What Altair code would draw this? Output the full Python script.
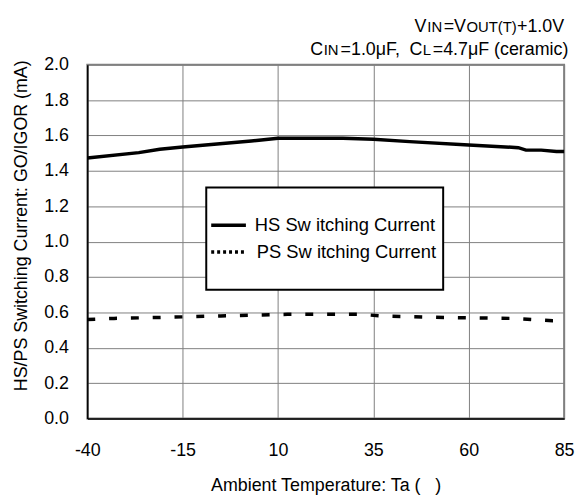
import altair as alt
import pandas as pd

FONT = "Liberation Sans, Arial, sans-serif"

# ---- data ----
hs_temp = [-40, -26.5, -21, -15, 3, 5, 10, 27, 35, 44.5, 60, 73, 75, 79, 83, 85]
hs_curr = [1.472, 1.503, 1.522, 1.535, 1.569, 1.573, 1.584, 1.584, 1.578, 1.565,
           1.546, 1.531, 1.517, 1.517, 1.509, 1.509]
ps_temp = [-40, -33, -22, -5, 12.5, 31.5, 37, 54, 71, 82, 85]
ps_curr = [0.560, 0.566, 0.571, 0.580, 0.589, 0.589, 0.580, 0.571, 0.566, 0.553, 0.553]
x_ticks = [-40, -15, 10, 35, 60, 85]
y_ticks = [0.0, 0.2, 0.4, 0.6, 0.8, 1.0, 1.2, 1.4, 1.6, 1.8, 2.0]
legend_labels = ["HS Sw itching Current", "PS Sw itching Current"]
x_title = "Ambient Temperature: Ta (\u00a0\u00a0\u00a0)"
y_title = "HS/PS Switching Current: GO/IGOR (mA)"

hs_df = pd.DataFrame({"T": hs_temp, "I": hs_curr})
ps_df = pd.DataFrame({"T": ps_temp, "I": ps_curr})
one = pd.DataFrame({"a": [0]})

x_enc = alt.X("T:Q", scale=alt.Scale(domain=[-40, 85], nice=False, zero=False),
              axis=alt.Axis(values=x_ticks, title=x_title, labelFlush=False,
                            labelExpr="datum.value < 0 ? '-' + format(-datum.value, 'd') : format(datum.value, 'd')",
                            labelFontSize=18, labelPadding=23, titleFontSize=18,
                            titleFontWeight="normal", titleX=240.5, titleY=73,
                            titleBaseline="alphabetic", titleAlign="center"))
y_enc = alt.Y("I:Q", scale=alt.Scale(domain=[0, 2], nice=False),
              axis=alt.Axis(values=y_ticks, format=".1f", title=y_title, labelFlush=False,
                            labelFontSize=18, labelPadding=19, titleFontSize=18,
                            titleFontWeight="normal", titleX=-61, titleY=162,
                            titleAngle=270, titleBaseline="alphabetic",
                            titleAlign="center"))

hs = alt.Chart(hs_df).mark_line(color="black", strokeWidth=3.5).encode(x=x_enc, y=y_enc)
ps = alt.Chart(ps_df).mark_line(color="black", strokeWidth=3.5,
                                strokeDash=[8, 14]).encode(x=x_enc, y=y_enc)

# legend box (drawn by hand, as in the reference)
leg_box = alt.Chart(one).mark_rect(fill="white", stroke="black", strokeWidth=2).encode(
    x=alt.value(120), x2=alt.value(359), y=alt.value(124), y2=alt.value(227))
leg_hs = alt.Chart(one).mark_rule(color="black", strokeWidth=3.5).encode(
    x=alt.value(125), x2=alt.value(160), y=alt.value(162))
leg_ps = alt.Chart(one).mark_rule(color="black", strokeWidth=3.5, strokeDash=[3, 3]).encode(
    x=alt.value(125), x2=alt.value(160), y=alt.value(189))
leg_t1 = alt.Chart(one).mark_text(text=legend_labels[0], fontSize=18.5, align="left",
                                  baseline="middle", font=FONT, color="black").encode(
    x=alt.value(169), y=alt.value(162))
leg_t2 = alt.Chart(one).mark_text(text=legend_labels[1], fontSize=18.5, align="left",
                                  baseline="middle", font=FONT, color="black").encode(
    x=alt.value(171), y=alt.value(189))


def txt(s, x, y, size, align="left"):
    return alt.Chart(one).mark_text(text=s, fontSize=size, align=align,
                                    baseline="alphabetic", font=FONT,
                                    color="black").encode(x=alt.value(x), y=alt.value(y))


M, S = 18, 15
notes = [
    txt("V", 418 - 88, -33, M), txt("IN", 431 - 88, -33, S), txt("=V", 447.5 - 88, -33, M),
    txt("OUT(T)", 470.5 - 88, -33, S), txt("+1.0V", 569 - 88, -33, M, "right"),
    txt("C", 313 - 88, -10, M), txt("IN", 326.5 - 88, -10, S),
    txt("=1.0\u03bcF,", 343.5 - 88, -10, M),
    txt("C", 413 - 88, -10, M), txt("L", 426.5 - 88, -10, S),
    txt("=4.7\u03bcF (ceramic)", 436.5 - 88, -10, M),
]

chart = alt.layer(hs, ps, leg_box, leg_hs, leg_ps, leg_t1, leg_t2, *notes).properties(
    width=481, height=357,
    autosize=alt.AutoSizeParams(type="none"),
    padding={"left": 80, "top": 55, "right": 12, "bottom": 80},
    background="white",
).configure(font=FONT).configure_view(
    stroke="#808080", strokeWidth=2
).configure_axis(
    grid=True, gridColor="#808080", gridWidth=1, ticks=False, tickSize=0,
    domainColor="black", domainWidth=1.5, labelColor="black", titleColor="black",
    labelFont=FONT, titleFont=FONT,
)

chart.save("out.html", embed_options={"renderer": "svg", "actions": False})
